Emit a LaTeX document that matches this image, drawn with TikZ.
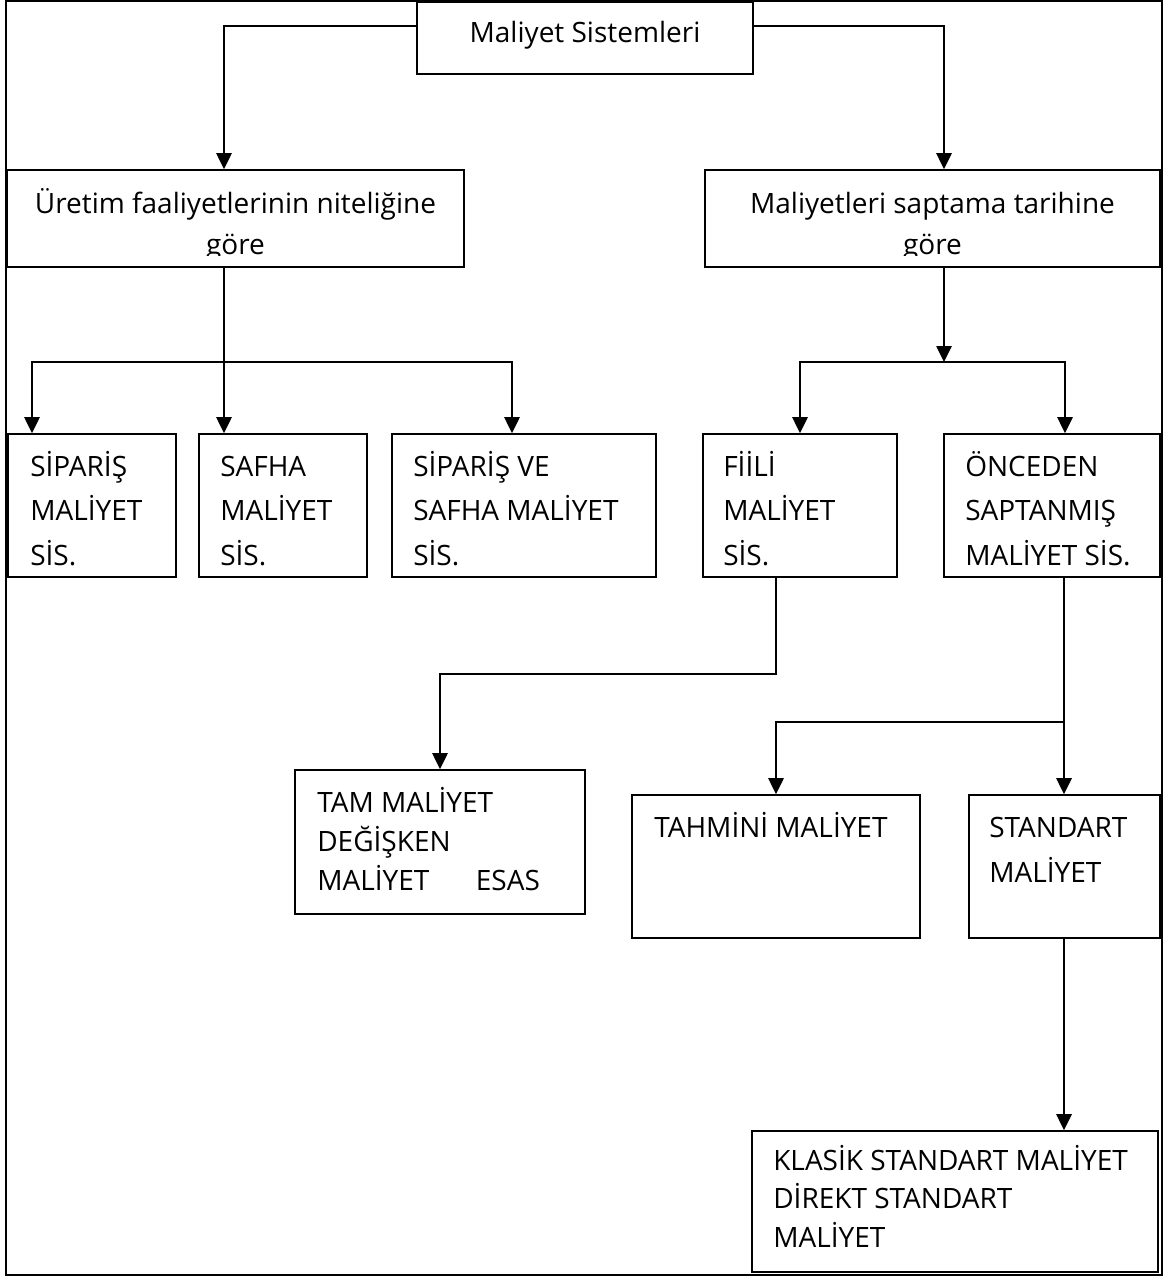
\documentclass[tikz,border=0pt]{standalone}
\usepackage{fontspec}
\setmainfont{Open Sans}
\usetikzlibrary{arrows.meta,fit}

% stacked lines with a fixed baseline distance; the baseline of the whole
% stack is the baseline of its first line
\newcommand\rows[2]{\vtop{\baselineskip=#1\relax\lineskiplimit=-100pt\relax #2}}

\begin{document}
\begin{tikzpicture}[x=0.75pt,y=-0.75pt,
  box/.style={draw, rectangle, inner sep=0pt, line width=1.2pt},
  txt/.style={inner sep=0pt, font=\fontsize{21pt}{24pt}\selectfont},
  link/.style={line width=1.2pt},
  arr/.style={link, -{Triangle[width=11.5pt,length=12pt]}},
  frame/.style={line width=1.2pt}]

\useasboundingbox (0,0) rectangle (1163,1277);

% page frame
\draw[frame] (6,1) rectangle (1162,1275);

% boxes
\node[box, fit={(417,2) (753,74)}]       (top)    {};
\node[box, fit={(7,170) (464,267)}]      (uret)   {};
\node[box, fit={(705,170) (1160,267)}]   (sap)    {};
\node[box, fit={(8,434) (176,577)}]      (sip)    {};
\node[box, fit={(199,434) (367,577)}]    (saf)    {};
\node[box, fit={(392,434) (656,577)}]    (sipsaf) {};
\node[box, fit={(703,434) (897,577)}]    (fii)    {};
\node[box, fit={(944,434) (1160,577)}]   (onc)    {};
\node[box, fit={(295,770) (585,914)}]    (tam)    {};
\node[box, fit={(632,795) (920,938)}]    (tah)    {};
\node[box, fit={(969,795) (1160,938)}]   (std)    {};
\node[box, fit={(752,1131) (1158,1272)}] (kls)    {};

% texts
\node[txt, anchor=base] (top-t) at (585,43) {Maliyet Sistemleri};
\node[txt, anchor=base] (uret-t) at (235.5,213) {Üretim faaliyetlerinin niteliğine};
\node[txt, anchor=base] (sap-t) at (932.5,213) {Maliyetleri saptama tarihine};
% second lines run past the lower edge of their boxes and are cut off
\begin{scope}
  \clip (7,170) rectangle (464,255.5);
  \node[txt, anchor=base] (uret-t2) at (235.5,254.5) {göre};
\end{scope}
\begin{scope}
  \clip (705,170) rectangle (1160,255.5);
  \node[txt, anchor=base] (sap-t2) at (932.5,254.5) {göre};
\end{scope}

\node[txt, anchor=base west] (sip-t) at (30,476)
  {\rows{33.4pt}{\hbox{SİPARİŞ}\hbox{MALİYET}\hbox{SİS.}}};
\node[txt, anchor=base west] (saf-t) at (220,476)
  {\rows{33.4pt}{\hbox{SAFHA}\hbox{MALİYET}\hbox{SİS.}}};
\node[txt, anchor=base west] (sipsaf-t) at (413,476)
  {\rows{33.4pt}{\hbox{SİPARİŞ VE}\hbox{SAFHA MALİYET}\hbox{SİS.}}};
\node[txt, anchor=base west] (fii-t) at (723,476)
  {\rows{33.4pt}{\hbox{FİİLİ}\hbox{MALİYET}\hbox{SİS.}}};
\node[txt, anchor=base west] (onc-t) at (965,476)
  {\rows{33.4pt}{\hbox{ÖNCEDEN}\hbox{SAPTANMIŞ}\hbox{MALİYET SİS.}}};
\node[txt, anchor=base west] (tam-t) at (317,812)
  {\rows{29.3pt}{\hbox{TAM MALİYET}\hbox{DEĞİŞKEN}\hbox to 167pt{MALİYET\hfill ESAS}}};
\node[txt, anchor=base west] (tah-t) at (654,837) {TAHMİNİ MALİYET};
\node[txt, anchor=base west] (std-t) at (989,837)
  {\rows{33.75pt}{\hbox{STANDART}\hbox{MALİYET}}};
\node[txt, anchor=base west] (kls-t) at (773,1170)
  {\rows{28.9pt}{\hbox{KLASİK STANDART MALİYET}\hbox{DİREKT STANDART}\hbox{MALİYET}}};

% bends of the connectors
\coordinate (tl) at (224,26);
\coordinate (tr) at (944,26);
\coordinate (bl) at (32,362);
\coordinate (br) at (512,362);
\coordinate (rl) at (800,362);
\coordinate (rr) at (1065,362);
\coordinate (fk) at (776,674);
\coordinate (tk) at (440,674);
\coordinate (ok) at (1064,722);
\coordinate (hk) at (776,722);

% connectors
\draw[arr] (top.west |- tl) -- (tl) -- (tl |- uret.north);
\draw[arr] (top.east |- tr) -- (tr) -- (tr |- sap.north);

\draw[arr] (tl |- uret.south) -- (tl |- saf.north);
\draw[arr] (br) -- (bl) -- (bl |- sip.north);
\draw[arr] (bl) -- (br) -- (br |- sipsaf.north);

\draw[arr] (tr |- sap.south) -- (tr |- rl);
\draw[arr] (rr) -- (rl) -- (rl |- fii.north);
\draw[arr] (rl) -- (rr) -- (rr |- onc.north);

\draw[arr] (fk |- fii.south) -- (fk) -- (tk) -- (tk |- tam.north);

\draw[arr] (ok |- onc.south) -- (ok) -- (ok |- std.north);
\draw[arr] (ok) -- (hk) -- (hk |- tah.north);

\draw[arr] (ok |- std.south) -- (ok |- kls.north);

\end{tikzpicture}
\end{document}
